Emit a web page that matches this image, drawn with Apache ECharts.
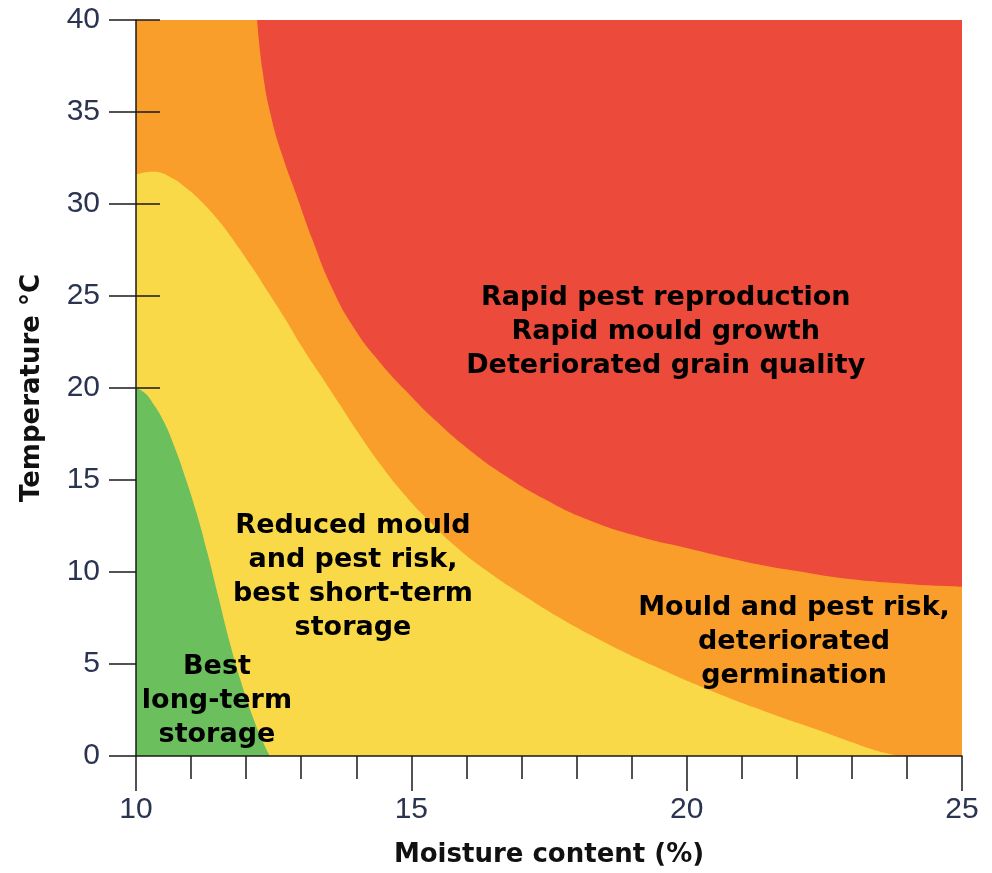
<!DOCTYPE html>
<html>
<head>
<meta charset="utf-8">
<script src="https://cdn.jsdelivr.net/npm/echarts@6/dist/echarts.min.js"></script>
<style>
  html, body { margin: 0; padding: 0; background: #ffffff; }
  #chart { width: 992px; height: 873px; }
</style>
</head>
<body>
<div id="chart"></div>
<script>
// ---- Data ----
const xTicks = [10, 15, 20, 25];
const yTicks = [0, 5, 10, 15, 20, 25, 30, 35, 40];

// Lower boundary of the red zone (red fills above it)
const redBoundary = [
  [12.2, 40], [12.3, 37.2], [12.45, 34.8], [12.65, 32.7], [12.9, 30.6],
  [13.2, 28.1], [13.55, 25.5], [13.95, 23.3], [14.4, 21.5], [14.9, 19.85],
  [15.45, 18.2], [16.05, 16.65], [16.7, 15.25], [17.4, 14.0], [18.2, 12.85],
  [19.1, 11.95], [20.0, 11.3], [21.0, 10.6], [22.0, 10.05], [23.0, 9.6],
  [24.0, 9.35], [25.0, 9.2]
];

// Upper boundary of the yellow zone (yellow fills below it)
const yellowBoundary = [
  [10.0, 31.6], [10.3, 31.75], [10.6, 31.5], [10.9, 30.9], [11.2, 30.1],
  [11.5, 29.1], [11.8, 27.9], [12.1, 26.6], [12.4, 25.2], [12.7, 23.8],
  [13.0, 22.3], [13.35, 20.7], [13.7, 19.1], [14.05, 17.5], [14.45, 15.8],
  [14.85, 14.3], [15.3, 12.85], [15.8, 11.4], [16.4, 10.0], [17.0, 8.8],
  [17.7, 7.5], [18.5, 6.2], [19.4, 4.9], [20.4, 3.6], [21.4, 2.45],
  [22.4, 1.4], [23.0, 0.75], [23.5, 0.25], [23.9, 0]
];

// Upper boundary of the green zone (green fills below it)
const greenBoundary = [
  [10.0, 20], [10.15, 19.75], [10.3, 19.2], [10.5, 18.2], [10.7, 16.8],
  [10.9, 15.1], [11.1, 13.2], [11.3, 11.0], [11.5, 8.6], [11.7, 6.2],
  [11.9, 4.1], [12.1, 2.3], [12.3, 0.8], [12.43, 0]
];

const zoneTexts = [
  'Rapid pest reproduction\nRapid mould growth\nDeteriorated grain quality',
  'Reduced mould\nand pest risk,\nbest short-term\nstorage',
  'Mould and pest risk,\ndeteriorated\ngermination',
  'Best\nlong-term\nstorage'
];
const zoneTextAt = [
  [19.62, 23.07],
  [13.94, 9.75],
  [21.95, 6.2],
  [11.47, 3.0]
];

// ---- Styles ----
const RED = '#EC4A3B', ORANGE = '#F99E2B', YELLOW = '#FAD948', GREEN = '#6BBF5C';
const boldFont = 'DejaVu Sans';
const axisColor = '#1a1a1a';

const chart = echarts.init(document.getElementById('chart'), null, { renderer: 'canvas' });

function areaSeries(data, color, origin) {
  return {
    type: 'line',
    data: data,
    smooth: 0.5,
    showSymbol: false,
    symbol: 'none',
    lineStyle: { width: 0, color: color },
    areaStyle: { color: color, opacity: 1, origin: origin },
    silent: true,
    z: 2
  };
}

const option = {
  backgroundColor: '#ffffff',
  animation: false,
  grid: {
    left: 136, right: 30, top: 20, bottom: 116,
    show: true, backgroundColor: ORANGE, borderWidth: 0
  },
  xAxis: {
    type: 'value',
    min: 10, max: 25, interval: 5,
    z: 10,
    name: 'Moisture content (%)',
    nameLocation: 'middle',
    nameGap: 86,
    nameTextStyle: { fontFamily: boldFont, fontWeight: 'bold', fontSize: 26, color: '#111' },
    axisLine: { show: true, onZero: false, lineStyle: { color: axisColor, width: 1.5 } },
    axisTick: { show: true, length: 35, lineStyle: { color: axisColor, width: 1.5 } },
    minorTick: { show: true, splitNumber: 5, length: 23, lineStyle: { color: axisColor, width: 1.5 } },
    axisLabel: {
      margin: 39, fontFamily: 'Liberation Sans', fontSize: 30, color: '#2a3350',
      customValues: xTicks
    },
    splitLine: { show: false },
    minorSplitLine: { show: false }
  },
  yAxis: [
    {
      type: 'value',
      min: 0, max: 40, interval: 5,
      z: 10,
      name: 'Temperature °C',
      nameLocation: 'middle',
      nameGap: 91,
      nameRotate: 90,
      nameTextStyle: { fontFamily: boldFont, fontWeight: 'bold', fontSize: 26, color: '#111' },
      axisLine: { show: true, onZero: false, lineStyle: { color: axisColor, width: 1.5 } },
      axisTick: { show: true, length: 27, lineStyle: { color: axisColor, width: 1.5 } },
      axisLabel: {
        margin: 36, fontFamily: 'Liberation Sans', fontSize: 30, color: '#2a3350',
        customValues: yTicks
      },
      splitLine: { show: false }
    },
    {
      type: 'value',
      min: 0, max: 40, interval: 5,
      z: 10,
      position: 'left',
      axisLine: { show: false },
      axisTick: {
        show: true, inside: true, length: 24,
        lineStyle: { color: axisColor, width: 1.5 },
        customValues: [20, 25, 30, 35, 40]
      },
      axisLabel: { show: false },
      splitLine: { show: false }
    }
  ],
  series: [
    areaSeries(yellowBoundary, YELLOW, 'start'),
    areaSeries(greenBoundary, GREEN, 'start'),
    areaSeries(redBoundary, RED, 'end'),
    {
      type: 'scatter',
      symbolSize: 0,
      silent: true,
      z: 5,
      itemStyle: { opacity: 1 },
      data: zoneTextAt.map((p, i) => ({ value: p, name: zoneTexts[i] })),
      label: {
        show: true,
        position: 'inside',
        formatter: (p) => p.name,
        fontFamily: boldFont,
        fontWeight: 'bold',
        fontSize: 27,
        lineHeight: 34,
        align: 'center',
        verticalAlign: 'middle',
        color: '#000000',
        opacity: 1
      }
    }
  ]
};

chart.setOption(option);
</script>
</body>
</html>
